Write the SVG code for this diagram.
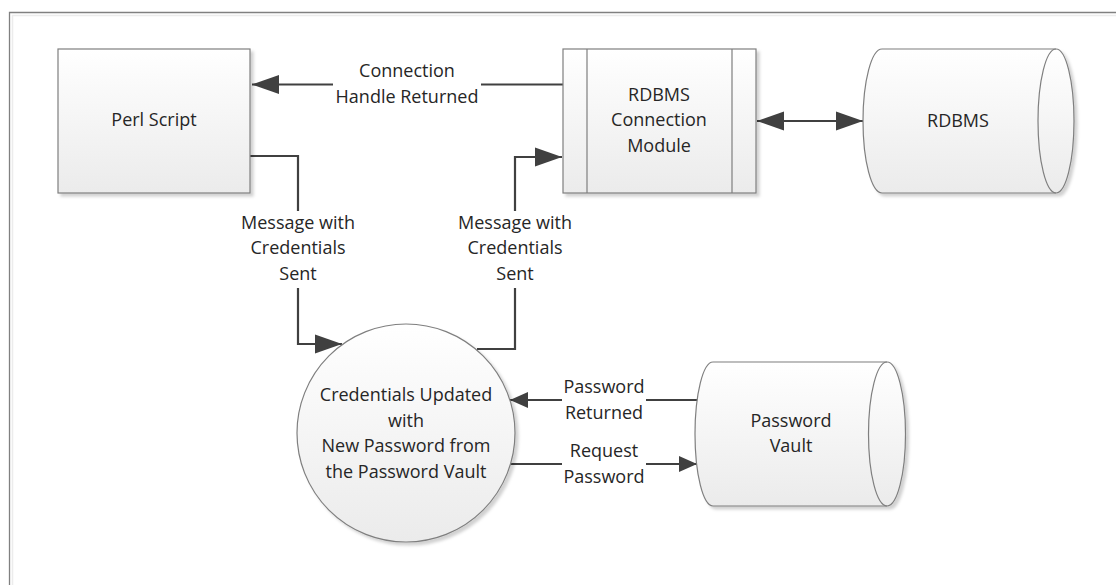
<svg xmlns="http://www.w3.org/2000/svg" width="1116" height="585" viewBox="0 0 1116 585">
<style>
.shape{stroke:#7f7f7f;stroke-width:1.2;fill:url(#g)}
.inner{stroke:#7f7f7f;stroke-width:1.2;fill:none}
.t{font-family:"Open Sans","Liberation Sans",sans-serif;font-size:18px;fill:#262626;text-anchor:middle}
.c{stroke:#404040;stroke-width:2.2;fill:none}
</style>
<defs>
<linearGradient id="g" x1="0" y1="0" x2="0" y2="1">
<stop offset="0" stop-color="#ffffff"/>
<stop offset="1" stop-color="#ebebeb"/>
</linearGradient>
<filter id="sh" x="-10%" y="-10%" width="130%" height="130%">
<feDropShadow dx="3" dy="3" stdDeviation="1.5" flood-color="#000" flood-opacity="0.18"/>
</filter>
<marker id="big" markerUnits="userSpaceOnUse" markerWidth="28" markerHeight="20" refX="27" refY="10" orient="auto-start-reverse" viewBox="0 0 28 20">
<path d="M0,0.5 L27,10 L0,19.5 Z" fill="#404040"/>
</marker>
<marker id="small" markerUnits="userSpaceOnUse" markerWidth="19" markerHeight="17" refX="18" refY="8.5" orient="auto" viewBox="0 0 19 17">
<path d="M0,0.5 L18,8.5 L0,16.5 Z" fill="#404040"/>
</marker>
</defs>
<rect width="1116" height="585" fill="#ffffff"/>
<g id="frame">
<path d="M12.5,585 V15.5 H1116" fill="none" stroke="#ececec" stroke-width="1.5"/>
<path d="M9.5,585 V12.5 H1116" fill="none" stroke="#808080" stroke-width="1.3"/>
</g>
<g id="connectors">
<path class="c" d="M563,84.5 H481"/>
<path class="c" d="M333,84.5 H252" marker-end="url(#big)"/>
<path class="c" d="M250,156 H298 V211"/>
<path class="c" d="M298,288 V344 H342" marker-end="url(#big)"/>
<path class="c" d="M477,349 H515 V288"/>
<path class="c" d="M515,211 V157 H562" marker-end="url(#big)"/>
<path class="c" d="M757,121 H863" marker-start="url(#big)" marker-end="url(#big)"/>
<path class="c" d="M700,400 H646"/>
<path class="c" d="M562,400 H510" marker-end="url(#small)"/>
<path class="c" d="M510,464 H562"/>
<path class="c" d="M646,464 H697" marker-end="url(#small)"/>
<text class="t" x="407" y="77">Connection</text>
<text class="t" x="407" y="103">Handle Returned</text>
<text class="t" x="298" y="229">Message with</text>
<text class="t" x="298" y="254">Credentials</text>
<text class="t" x="298" y="280">Sent</text>
<text class="t" x="515" y="229">Message with</text>
<text class="t" x="515" y="254">Credentials</text>
<text class="t" x="515" y="280">Sent</text>
<text class="t" x="604" y="393">Password</text>
<text class="t" x="604" y="419">Returned</text>
<text class="t" x="604" y="457">Request</text>
<text class="t" x="604" y="483">Password</text>
</g>
<g id="perl-script">
<rect class="shape" x="58" y="49" width="192" height="144" filter="url(#sh)"/>
<text class="t" x="154" y="126">Perl Script</text>
</g>
<g id="rdbms-connection-module">
<rect class="shape" x="563" y="49" width="193" height="144" filter="url(#sh)"/>
<path class="inner" d="M587,49 V193 M732,49 V193"/>
<text class="t" x="659" y="101">RDBMS</text>
<text class="t" x="659" y="126">Connection</text>
<text class="t" x="659" y="152">Module</text>
</g>
<g id="rdbms">
<path class="shape" d="M882,49 H1056 A18,72 0 0 1 1056,193 H882 A19,72 0 0 1 882,49 Z" filter="url(#sh)"/>
<path class="inner" d="M1056,49 A18,72 0 0 0 1056,193"/>
<text class="t" x="958" y="127">RDBMS</text>
</g>
<g id="credentials-updated">
<circle class="shape" cx="406" cy="433" r="109" filter="url(#sh)"/>
<text class="t" x="406" y="401">Credentials Updated</text>
<text class="t" x="406" y="427">with</text>
<text class="t" x="406" y="452">New Password from</text>
<text class="t" x="406" y="478">the Password Vault</text>
</g>
<g id="password-vault">
<path class="shape" d="M713,362 H887 A18.5,72 0 0 1 887,506 H713 A18,72 0 0 1 713,362 Z" filter="url(#sh)"/>
<path class="inner" d="M887,362 A18.5,72 0 0 0 887,506"/>
<text class="t" x="791" y="427">Password</text>
<text class="t" x="791" y="452">Vault</text>
</g>
</svg>
